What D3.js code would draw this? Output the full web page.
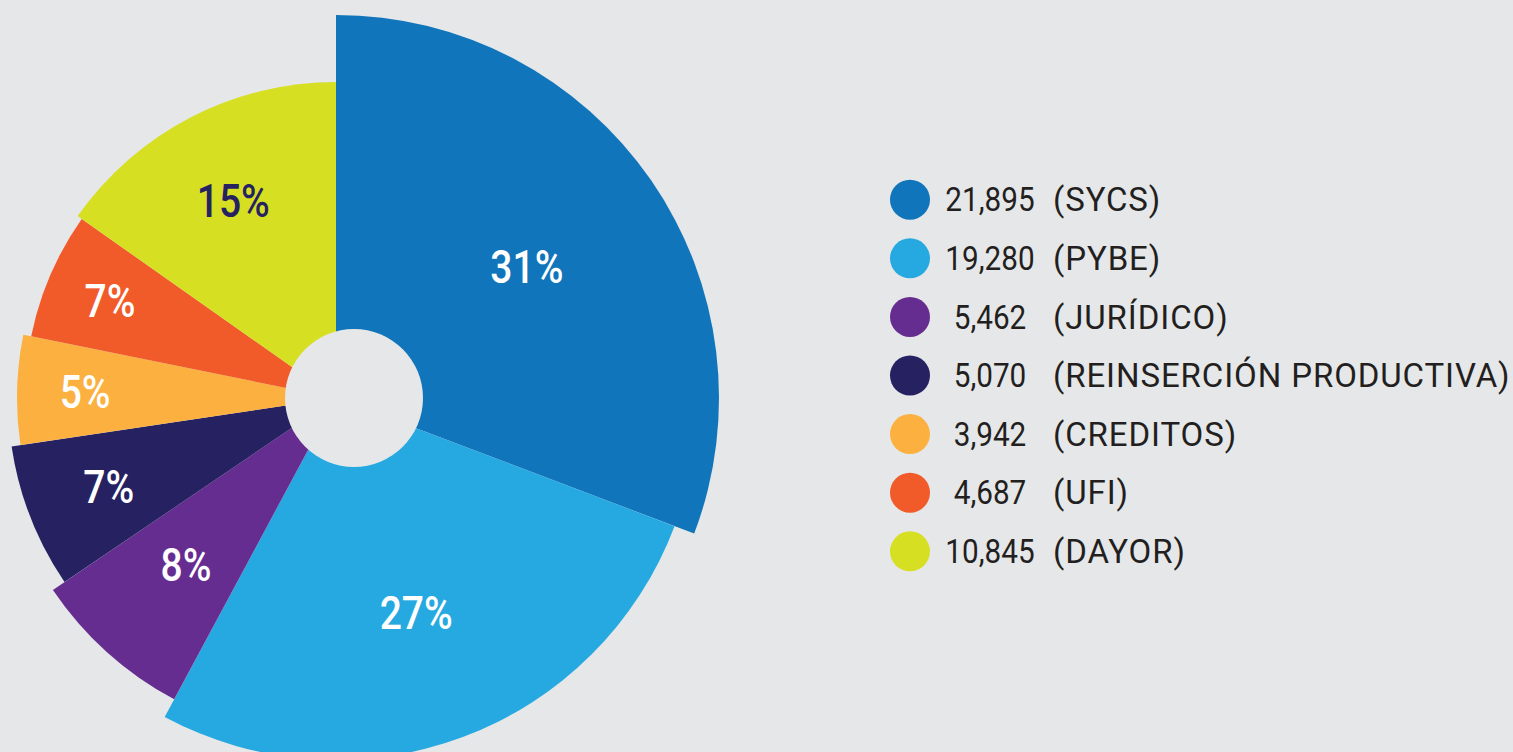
<!DOCTYPE html>
<html>
<head>
<meta charset="utf-8">
<script src="https://cdn.jsdelivr.net/npm/d3@7"></script>
<style>
  html, body { margin: 0; padding: 0; background: #e6e7e8; overflow: hidden; }
  svg { display: block; }
</style>
</head>
<body>
<div id="chart"></div>
<script>
// Datos del grafico
var categories = ["SYCS", "PYBE", "JURÍDICO", "REINSERCIÓN PRODUCTIVA", "CREDITOS", "UFI", "DAYOR"];
var values = [21895, 19280, 5462, 5070, 3942, 4687, 10845];
var pctLabels = ["31%", "27%", "8%", "7%", "5%", "7%", "15%"];
var colors = ["#1175bb", "#26a9e0", "#662d91", "#262262", "#fbb040", "#f15a29", "#d7df23"];
var labelColors = ["#fff", "#fff", "#fff", "#fff", "#fff", "#fff", "#262262"];

// layout
var svgWidth = 1513;
var svgHeight = 752;
var center = { x: 336, y: 398 };
var outerR = [383, 362, 342, 328, 319, 311, 316];
var labelR = [232, 229, 224, 244, 251, 246, 223];
var hole = { dx: 18, r: 69 };
var bg = "#e6e7e8";

var svg = d3.select("#chart")
  .append("svg")
  .attr("width", svgWidth)
  .attr("height", svgHeight);

var pieGroup = svg.append("g")
  .attr("transform", `translate(${center.x}, ${center.y})`);

var pie = d3.pie().sort(null).value(d => d);
var arcs = pie(values);

var arc = d3.arc()
  .innerRadius(0)
  .outerRadius((d, i) => outerR[i]);

pieGroup.selectAll("path")
  .data(arcs)
  .enter()
  .append("path")
  .attr("d", (d, i) => arc(d, i))
  .attr("fill", (d, i) => colors[i]);

// hueco central (ligeramente desplazado como en el original)
pieGroup.append("circle")
  .attr("cx", hole.dx)
  .attr("cy", 0)
  .attr("r", hole.r)
  .attr("fill", bg);

// Etiquetas de porcentaje
var labelArc = d3.arc()
  .innerRadius((d, i) => labelR[i])
  .outerRadius((d, i) => labelR[i]);

var pctSize = 47;
pieGroup.selectAll("text.pct")
  .data(arcs)
  .enter()
  .append("text")
  .attr("class", "pct")
  .attr("transform", (d, i) => {
    var c = labelArc.centroid(d, i);
    return `translate(${c[0]}, ${c[1] + pctSize * 0.355}) scale(0.83, 1)`;
  })
  .attr("text-anchor", "middle")
  .style("font-family", "Roboto, 'DejaVu Sans', sans-serif")
  .style("font-size", pctSize + "px")
  .style("font-weight", 500)
  .attr("fill", (d, i) => labelColors[i])
  .text((d, i) => pctLabels[i]);

// Leyenda
var legend = { x: 910, y: 199.7, step: 58.6, r: 20, numX: 990, catX: 1053, size: 33 };
var fmt = d3.format(",");

var rows = svg.selectAll("g.legend")
  .data(categories)
  .enter()
  .append("g")
  .attr("class", "legend")
  .attr("transform", (d, i) => `translate(0, ${legend.y + i * legend.step})`);

rows.append("circle")
  .attr("cx", legend.x)
  .attr("cy", 0)
  .attr("r", legend.r)
  .attr("fill", (d, i) => colors[i]);

rows.append("text")
  .attr("transform", `translate(${legend.numX}, ${legend.size * 0.355}) scale(0.9, 1)`)
  .attr("text-anchor", "middle")
  .style("font-family", "Roboto, 'DejaVu Sans', sans-serif")
  .style("font-size", legend.size + "px")
  .style("font-weight", 400)
  .attr("fill", "#231f20")
  .text((d, i) => fmt(values[i]));

rows.append("text")
  .attr("x", legend.catX)
  .attr("y", legend.size * 0.355)
  .style("font-family", "Roboto, 'DejaVu Sans', sans-serif")
  .style("font-size", legend.size + "px")
  .style("font-weight", 400)
  .style("letter-spacing", "0.9px")
  .attr("fill", "#231f20")
  .text(d => `(${d})`);
</script>
</body>
</html>
